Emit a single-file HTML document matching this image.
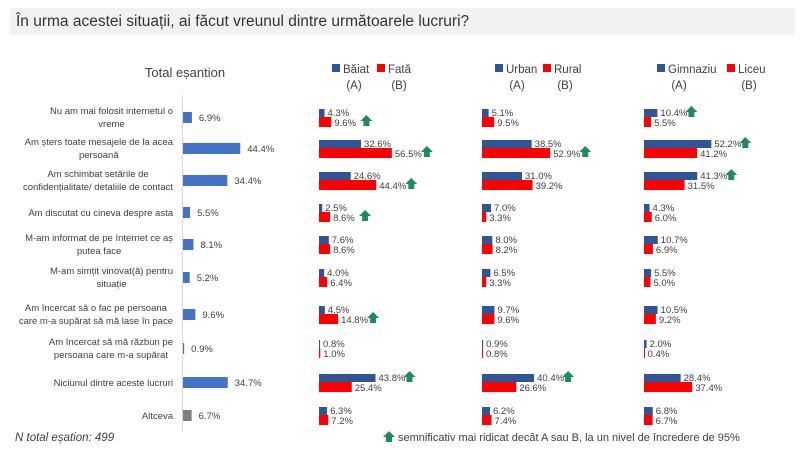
<!DOCTYPE html>
<html><head><meta charset="utf-8">
<style>
body{margin:0;width:800px;height:450px;background:#fff;font-family:"Liberation Sans",sans-serif;overflow:hidden;position:relative;color:#404040}
#title{position:absolute;left:10px;top:8px;width:785px;height:27px;background:#f2f2f2;font-size:15.5px;line-height:27px;padding-left:6px;box-sizing:border-box;color:#333}
svg{position:absolute;left:0;top:0}
text{font-family:"Liberation Sans",sans-serif}
</style></head><body>
<div id="title">În urma acestei situații, ai făcut vreunul dintre următoarele lucruri?</div>
<svg id="c" width="800" height="450"></svg>
<script>
const categories=[["Nu am mai folosit internetul o","vreme"],["Am șters toate mesajele de la acea","persoană"],["Am schimbat setările de","confidențialitate/ detaliile de contact"],["Am discutat cu cineva despre asta"],["M-am informat de pe Internet ce aș","putea face"],["M-am simțit vinovat(ă) pentru","situație"],["Am încercat să o fac pe persoana","care m-a supărat să mă lase în pace"],["Am încercat să mă răzbun pe","persoana care m-a supărat"],["Niciunul dintre aceste lucruri"],["Altceva"]];
const total=[6.9,44.4,34.4,5.5,8.1,5.2,9.6,0.9,34.7,6.7];
const baiat=[4.3,32.6,24.6,2.5,7.6,4.0,4.5,0.8,43.8,6.3];
const fata=[9.6,56.5,44.4,8.6,8.6,6.4,14.8,1.0,25.4,7.2];
const urban=[5.1,38.5,31.0,7.0,8.0,6.5,9.7,0.9,40.4,6.2];
const rural=[9.5,52.9,39.2,3.3,8.2,3.3,9.6,0.8,26.6,7.4];
const gimnaziu=[10.4,52.2,41.3,4.3,10.7,5.5,10.5,2.0,28.4,6.8];
const liceu=[5.5,41.2,31.5,6.0,6.9,5.0,9.2,0.4,37.4,6.7];
const starsA={g:[8],u:[8],s:[0,1,2]};
const starsB={g:[0,1,2,3,6],u:[1],s:[]};
const rowY=[117,148,180,212,244,277,314,348,382,415];
const svg=document.getElementById('c');
const NS='http://www.w3.org/2000/svg';
function el(t,a){const e=document.createElementNS(NS,t);for(const k in a)e.setAttribute(k,a[k]);svg.appendChild(e);return e;}
function txt(x,y,s,size,anchor,fill){const t=el('text',{x:x,y:y,'font-size':size,'text-anchor':anchor||'start',fill:fill||'#404040'});t.textContent=s;return t;}
const sc=1.29;
function xs(v){return v*sc;}
function star(x,y){const p=el('polygon',{points:`${x},${y-6} ${x+6},${y} ${x+3},${y} ${x+3},${y+5} ${x-3},${y+5} ${x-3},${y} ${x-6},${y}`,fill:'#1e8a5e'});

}
let h=txt(185,77,'Total eșantion',13,'middle','#404040');


let ax=el('line',{x1:182.5,y1:95,x2:182.5,y2:432,stroke:'#d9d9d9','stroke-width':1});


categories.forEach((c,i)=>{
 const y=rowY[i];
 if(c.length===1){const t=txt(173,y+4,c[0],9.5,'end');}
 else{
  const t1=txt(0,y-3,c[0],9.5,'middle');
  
  
  const t2=txt(0,y+10,c[1],9.5,'middle');
  
  
  const w=Math.max(t1.getComputedTextLength(),t2.getComputedTextLength());
  const cx=173-w/2;
  t1.setAttribute('x',cx);t2.setAttribute('x',cx);
 }
 const w=xs(total[i]);
 const r=el('rect',{x:183,y:y-5,width:Math.max(w,1),height:11,fill:i===9?'#7f7f7f':'#4472c4'});
 
 
 const l=txt(183+w+7,y+4,total[i].toFixed(1)+'%',9.5);
 
 
});
function group(x0,A,B,nA,nB,key,lx,gap){
 const sq1=el('rect',{x:lx,y:64,width:8,height:8,fill:'#2f5597'});
 
 let t=txt(lx+11,73,nA,11.5);
 const sq2=el('rect',{x:lx+gap,y:64,width:8,height:8,fill:'#ff0000'});
 
 t=txt(lx+gap+11,73,nB,11.5);
 t=txt(lx+22,89,'(A)',11.5,'middle');
 t=txt(lx+gap+22,89,'(B)',11.5,'middle');
 A.forEach((v,i)=>{
  const y=rowY[i];
  const wa=xs(v),wb=xs(B[i]);
  let r=el('rect',{x:x0,y:y-8,width:Math.max(wa,1),height:8,fill:'#2f5597'});
  
  r=el('rect',{x:x0,y:y,width:Math.max(wb,1),height:10,fill:'#ff0000'});
  
  let la=txt(x0+wa+3,y-1,v.toFixed(1)+'%',9.5);
  let lb=txt(x0+wb+3,y+9,B[i].toFixed(1)+'%',9.5);
  if(starsA[key].includes(i))star(x0+wa+34,y-5);
  if(starsB[key].includes(i))star(x0+wb+35,y+4);
 });
}
group(319,baiat,fata,'Băiat','Fată','g',332,45);
group(482,urban,rural,'Urban','Rural','u',495,48);
group(644,gimnaziu,liceu,'Gimnaziu','Liceu','s',657,70);
let f=txt(15,441,'N total eșation: 499',11.5);
f.setAttribute('font-style','italic');


star(389,437);
f=txt(398,441,'semnificativ mai ridicat decât A sau B, la un nivel de încredere de 95%',11);


</script>
</body></html>
